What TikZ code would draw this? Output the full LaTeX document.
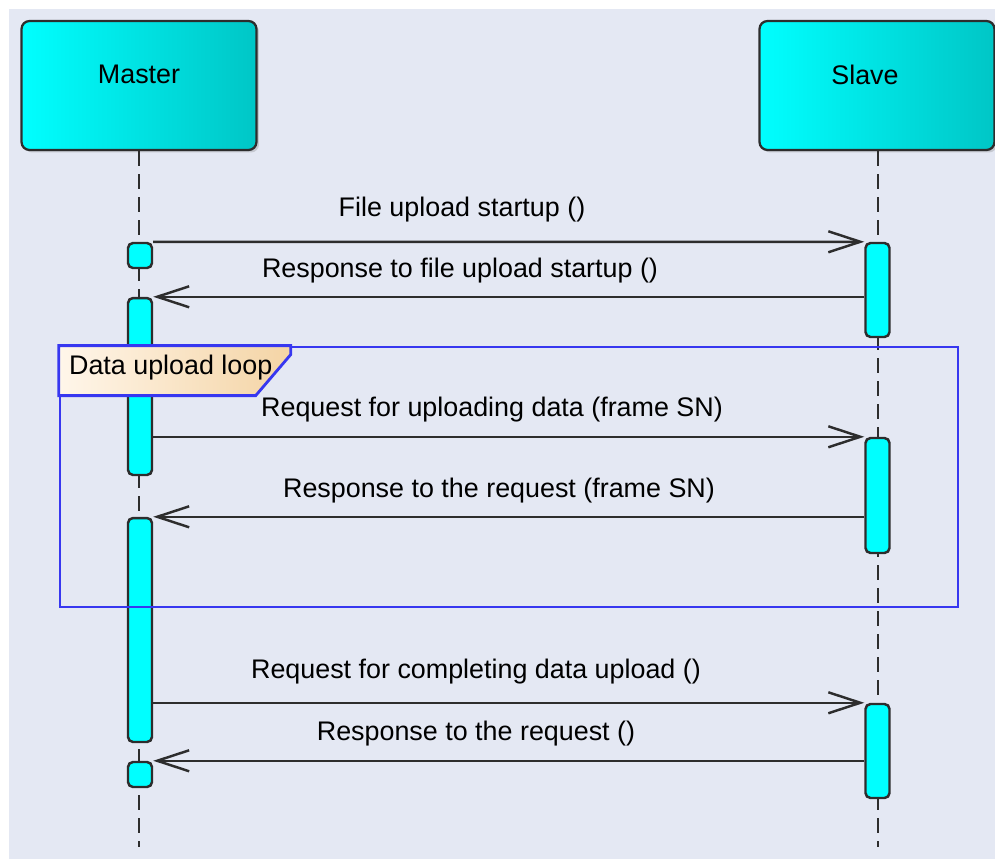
\documentclass[tikz,border=0pt]{standalone}
\usepackage{fontspec}
\setmainfont{Liberation Sans}
\usetikzlibrary{arrows.meta,positioning,shadows}
\definecolor{bgpanel}{RGB}{228,232,243}
\definecolor{headcyan}{RGB}{0,255,255}
\definecolor{headteal}{RGB}{0,198,198}
\definecolor{linegray}{RGB}{45,45,45}
\definecolor{loopblue}{RGB}{55,55,240}
\definecolor{tagtan}{RGB}{244,212,165}
\definecolor{tagcream}{RGB}{255,246,234}

\begin{document}
\begin{tikzpicture}[x=0.02cm, y=-0.02cm,
    font=\fontsize{15.3}{18}\selectfont,
    head/.style={rectangle, draw=linegray, line width=1.3pt, rounded corners=0.16cm, left color=headcyan, right color=headteal, minimum width=4.7cm, minimum height=2.58cm, drop shadow={shadow xshift=0.05cm, shadow yshift=-0.05cm, opacity=0.3}},
    act/.style={rectangle, draw=linegray, line width=1.4pt, rounded corners=0.1cm, fill=headcyan, minimum width=0.48cm, inner sep=0pt},
    lifeline/.style={draw=linegray, line width=1.2pt, dash pattern=on 0.3cm off 0.16cm},
    msg/.style={draw=linegray, line width=1.4pt, -{Straight Barb[length=0.64cm, width=0.42cm]}},
    lbl/.style={text=black, inner sep=1pt},
    loopframe/.style={draw=loopblue, line width=1.6pt, minimum width=17.96cm, minimum height=5.2cm},
    looptag/.style={draw=loopblue, line width=1.6pt, left color=tagcream, right color=tagtan}
]
    \useasboundingbox (0,0) rectangle (995,859);
    \fill[bgpanel] (9,9) rectangle (995,859);

    % lifelines
    \coordinate (mend) at (139,847);
    \coordinate (send) at (878,847);
    \node[head, label={[yshift=0.22cm]center:Master}] (master) at (139,85.5) {};
    \node[head, label={[yshift=0.22cm, xshift=-0.24cm]center:Slave}] (slave) at (877,85.5) {};
    \draw[lifeline] (master.south -| mend) -- (mend);
    \draw[lifeline] (slave.south -| send) -- (send);

    % activations
    \node[act, minimum height=0.5cm] (m1) at (140,255.5) {};
    \node[act, minimum height=3.54cm] (m2) at (140,386.5) {};
    \node[act, minimum height=4.48cm] (m3) at (140,630) {};
    \node[act, minimum height=0.5cm] (m4) at (140,774.5) {};
    \node[act, minimum height=1.88cm] (s1) at (877.5,290) {};
    \node[act, minimum height=2.3cm] (s2) at (877.5,495.5) {};
    \node[act, minimum height=1.88cm] (s3) at (877.5,751) {};

    % messages
    \draw[msg] (m1.north east) -- (s1.north west);
    \draw[msg] (s1.west |- m2.north) -- (m2.north east);
    \draw[msg] (m2.east |- s2.north) -- (s2.north west);
    \draw[msg] (s2.west |- m3.north) -- (m3.north east);
    \draw[msg] (m3.east |- s3.north) -- (s3.north west);
    \draw[msg] (s3.west |- m4.north) -- (m4.north east);

    \node[lbl] (l1) at (462,210) {File upload startup ()};
    \node[lbl] (l2) at (460,271) {Response to file upload startup ()};
    \node[lbl] (l3) at (492,410) {Request for uploading data (frame SN)};
    \node[lbl] (l4) at (499,491) {Response to the request (frame SN)};
    \node[lbl] (l5) at (476,672) {Request for completing data upload ()};
    \node[lbl] (l6) at (476,734) {Response to the request ()};

    % loop frame
    \node[loopframe] (loop) at (509,477) {};
    \draw[looptag] (loop.north west) -- ++(232,0) -- ++(0,9) -- ++(-35,41) -- ++(-197,0) -- cycle;
    \node[lbl, anchor=west] (looptitle) at (67,368) {Data upload loop};
\end{tikzpicture}
\end{document}
